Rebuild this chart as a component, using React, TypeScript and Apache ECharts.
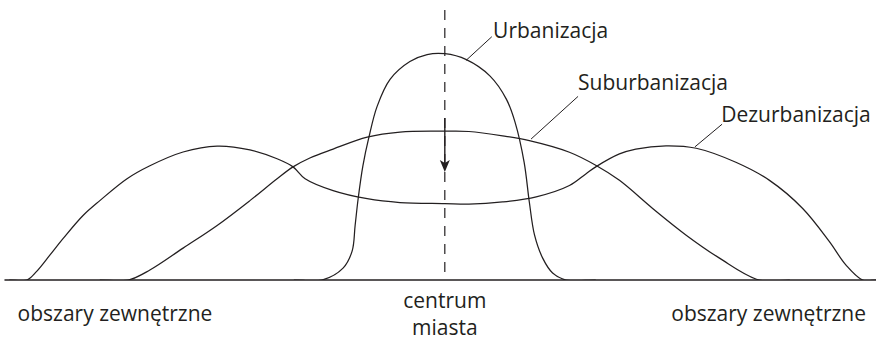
import React, { useEffect, useRef } from 'react';
import * as echarts from 'echarts';

const INK = '#231f20';
const FONT = '"Open Sans", sans-serif';

// bottom axis labels (x position in relative distance units, centre = 0)
const xLabelValues = [-76.5, 0, 75.1];
const xLabelTexts = ['obszary zewnętrzne', 'centrum\nmiasta', 'obszary zewnętrzne'];

const seriesNames = ['Urbanizacja', 'Suburbanizacja', 'Dezurbanizacja'];

// population density profiles [distance, density]
const urbanData = [
  [-35, 0], [-28.5, 0], [-23.6, 4.4], [-21.5, 10.7], [-20.8, 20.2], [-20.1, 30.1],
  [-19.0, 42.3], [-17.6, 52.9], [-15.7, 64.3], [-12.7, 74.3], [-8.1, 80.9], [-4.1, 83.5],
  [0, 83.8], [5.0, 81.6], [10.5, 75.5], [14.3, 66.9], [16.3, 58.4], [18.4, 43.6],
  [19.6, 28.9], [20.8, 16.7], [22.7, 8.1], [25.0, 2.6], [28.1, 0], [35, 0],
];
const suburbData = [
  [-80, 0], [-73.4, 0], [-68.4, 3.7], [-60.7, 11.8], [-52.8, 20.2], [-45.2, 29.4],
  [-38.9, 37.5], [-35.2, 41.9], [-31.3, 45.2], [-25.9, 48.5], [-18.0, 52.9], [-10.4, 54.8],
  [0, 55.1], [5.6, 55.0], [13.4, 53.4], [19.6, 51.6], [28.9, 47.3], [35.1, 42.4],
  [40.5, 36.9], [48.2, 26.5], [55.9, 16.7], [63.7, 8.1], [72.9, 0], [80, 0],
];
const dezurbData = [
  [-101, 0], [-96.9, 0], [-94.6, 3.3], [-91.6, 9.2], [-88.5, 15.4], [-83.9, 23.9],
  [-80.0, 29.4], [-73.7, 37.5], [-68.4, 42.3], [-60.7, 47.4], [-52.8, 49.6], [-45.2, 48.2],
  [-38.9, 44.9], [-35.2, 41.9], [-32.4, 37.5], [-25.9, 33.1], [-18.0, 30.1], [-10.4, 28.7],
  [0, 28.3], [5.6, 28.1], [13.4, 28.9], [21.2, 30.8], [28.9, 35.0], [32.7, 39.3],
  [35.1, 42.0], [40.5, 46.7], [44.3, 48.5], [51.3, 49.7], [58.3, 48.8], [67.5, 43.6],
  [75.3, 36.9], [83.0, 26.5], [89.2, 14.2], [93.0, 5.6], [96.9, 0], [100, 0],
];
const seriesData = [urbanData, suburbData, dezurbData];

// annotations: [leaderFromX, leaderFromY, leaderToX, leaderToY, labelX, labelY]
const annotationData = [
  [4.9, 81.3, 10.9, 90.1, 11.2, 92.6],
  [20.0, 52.2, 30.9, 68.0, 30.9, 73.5],
  [58.0, 49.3, 64.3, 57.7, 64.1, 61.4],
];

// centre axis (dashed) [x, top, bottom] and arrow [x, from, to]
const centreLine = [0, 100, 0];
const arrowLine = [0, 60, 40];

type Pt = number[];

function dist(a: Pt, b: Pt) {
  return Math.hypot(a[0] - b[0], a[1] - b[1]);
}

// centripetal Catmull-Rom spline through pixel points, as SVG path data
function splinePath(pts: Pt[]): string {
  const n = pts.length;
  const f = (v: number) => v.toFixed(2);
  let d = `M${f(pts[0][0])},${f(pts[0][1])}`;
  for (let i = 0; i < n - 1; i++) {
    const p1 = pts[i];
    const p2 = pts[i + 1];
    const p0 = i > 0 ? pts[i - 1] : [2 * p1[0] - p2[0], 2 * p1[1] - p2[1]];
    const p3 = i + 2 < n ? pts[i + 2] : [2 * p2[0] - p1[0], 2 * p2[1] - p1[1]];
    const a = 0.5;
    const d1 = Math.max(Math.pow(dist(p0, p1), a), 1e-6);
    const d2 = Math.max(Math.pow(dist(p1, p2), a), 1e-6);
    const d3 = Math.max(Math.pow(dist(p2, p3), a), 1e-6);
    const b1 = [0, 1].map(
      (k) => (d1 * d1 * p2[k] - d2 * d2 * p0[k] + (2 * d1 * d1 + 3 * d1 * d2 + d2 * d2) * p1[k]) / (3 * d1 * (d1 + d2))
    );
    const b2 = [0, 1].map(
      (k) => (d3 * d3 * p1[k] - d2 * d2 * p3[k] + (2 * d3 * d3 + 3 * d3 * d2 + d2 * d2) * p2[k]) / (3 * d3 * (d3 + d2))
    );
    d += ` C${f(b1[0])},${f(b1[1])} ${f(b2[0])},${f(b2[1])} ${f(p2[0])},${f(p2[1])}`;
  }
  return d;
}

export default function App() {
  const ref = useRef<HTMLDivElement>(null);

  useEffect(() => {
    if (!ref.current) return;
    const chart = echarts.init(ref.current, undefined, { renderer: 'svg' });

    const curveSeries = seriesNames.map((name, i) => ({
      type: 'custom',
      name,
      data: seriesData[i],
      encode: { x: 0, y: 1 },
      clip: true,
      silent: true,
      z: 3,
      renderItem: (params: any, api: any) => {
        if (params.dataIndex !== 0) return null;
        const pts = seriesData[i].map((p) => api.coord(p));
        return {
          type: 'path',
          shape: { pathData: splinePath(pts) },
          style: { stroke: INK, lineWidth: 1.25, fill: 'none' },
        };
      },
    }));

    const annotationSeries = {
      type: 'custom',
      name: 'annotations',
      data: annotationData,
      encode: { x: [0, 2, 4], y: [1, 3, 5] },
      clip: false,
      silent: true,
      z: 4,
      renderItem: (params: any, api: any) => {
        const from = api.coord([api.value(0), api.value(1)]);
        const to = api.coord([api.value(2), api.value(3)]);
        const lab = api.coord([api.value(4), api.value(5)]);
        return {
          type: 'group',
          children: [
            {
              type: 'line',
              shape: { x1: from[0], y1: from[1], x2: to[0], y2: to[1] },
              style: { stroke: INK, lineWidth: 1 },
            },
            {
              type: 'text',
              x: lab[0],
              y: lab[1],
              style: {
                text: seriesNames[params.dataIndex],
                fill: INK,
                fontSize: 21,
                fontFamily: FONT,
                align: 'left',
                verticalAlign: 'middle',
              },
            },
          ],
        };
      },
    };

    const centreSeries = {
      type: 'custom',
      name: 'centre',
      data: [[centreLine[0], centreLine[1], centreLine[2], arrowLine[1], arrowLine[2]]],
      encode: { x: 0, y: [1, 2, 3, 4] },
      clip: false,
      silent: true,
      z: 2,
      renderItem: (params: any, api: any) => {
        const top = api.coord([api.value(0), api.value(1)]);
        const bottom = api.coord([api.value(0), api.value(2)]);
        const aFrom = api.coord([api.value(0), api.value(3)]);
        const aTo = api.coord([api.value(0), api.value(4)]);
        const x = top[0];
        const tip = aTo[1];
        return {
          type: 'group',
          children: [
            {
              type: 'line',
              shape: { x1: x, y1: top[1], x2: x, y2: bottom[1] },
              style: { stroke: INK, lineWidth: 1.2, lineDash: [10, 8] },
            },
            {
              type: 'line',
              shape: { x1: x, y1: aFrom[1], x2: x, y2: tip - 8 },
              style: { stroke: INK, lineWidth: 1.4 },
            },
            {
              type: 'polygon',
              shape: {
                points: [
                  [x, tip],
                  [x - 5, tip - 12],
                  [x, tip - 9],
                  [x + 5, tip - 12],
                ],
              },
              style: { fill: INK, stroke: 'none' },
            },
          ],
        };
      },
    };

    chart.setOption({
      animation: false,
      backgroundColor: '#ffffff',
      grid: { left: 5, right: 0, top: 10, bottom: 58 },
      xAxis: {
        type: 'value',
        min: -102,
        max: 100,
        axisLine: { show: true, onZero: false, lineStyle: { color: INK, width: 1.5 } },
        axisTick: { show: false },
        splitLine: { show: false },
        axisLabel: {
          customValues: xLabelValues,
          formatter: (v: number) => {
            const idx = xLabelValues.findIndex((x) => Math.abs(x - v) < 0.01);
            return idx >= 0 ? xLabelTexts[idx] : '';
          },
          color: INK,
          fontSize: 21,
          fontFamily: FONT,
          lineHeight: 27,
          verticalAlign: 'middle',
          align: 'center',
          margin: 33,
        },
      },
      yAxis: { type: 'value', min: 0, max: 100, show: false },
      series: [...curveSeries, centreSeries, annotationSeries],
    });

    return () => chart.dispose();
  }, []);

  return (
    <div
      ref={ref}
      style={{ position: 'fixed', left: 0, top: 0, width: 876, height: 340 }}
    />
  );
}
